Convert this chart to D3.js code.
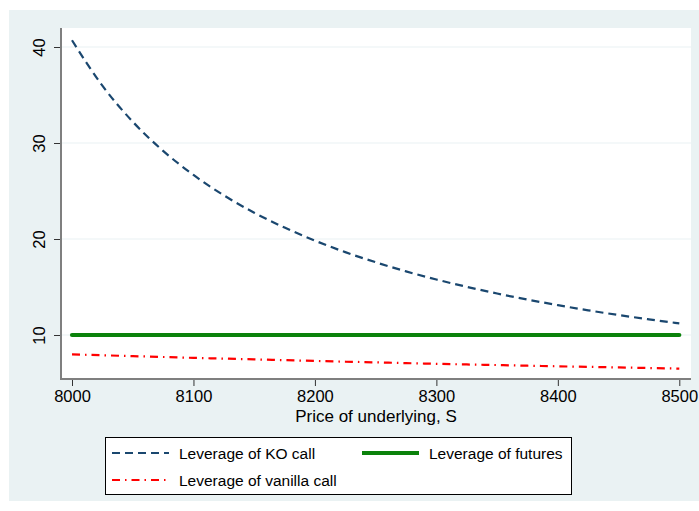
<!DOCTYPE html>
<html>
<head>
<meta charset="utf-8">
<script src="https://cdn.jsdelivr.net/npm/d3@7"></script>
<style>
  html, body { margin: 0; padding: 0; background: #ffffff; }
  svg { display: block; font-family: "Liberation Sans", Arial, sans-serif; }
</style>
</head>
<body>
<svg id="chart" width="699" height="511"></svg>
<script>
// Underlying price grid
const prices = [8000, 8025, 8050, 8075, 8100, 8125, 8150, 8175, 8200, 8225, 8250,
                8275, 8300, 8325, 8350, 8375, 8400, 8425, 8450, 8475, 8500];
// Leverage of the knock-out call
const koLeverage = [40.70, 35.97, 32.22, 29.18, 26.67, 24.55, 22.74, 21.19, 19.83, 18.63, 17.58,
                    16.63, 15.78, 15.02, 14.32, 13.69, 13.11, 12.57, 12.08, 11.63, 11.21];
// Leverage of the futures contract
const futuresLeverage = [10, 10, 10, 10, 10, 10, 10, 10, 10, 10, 10,
                         10, 10, 10, 10, 10, 10, 10, 10, 10, 10];
// Leverage of the vanilla call
const vanillaLeverage = [7.98, 7.89, 7.80, 7.71, 7.62, 7.54, 7.46, 7.38, 7.30, 7.22, 7.15,
                         7.07, 7.00, 6.93, 6.87, 6.80, 6.74, 6.68, 6.62, 6.56, 6.50];
const xTicks = [8000, 8100, 8200, 8300, 8400, 8500];
const yTicks = [10, 20, 30, 40];
const xTitle = "Price of underlying, S";
const seriesNames = ["Leverage of KO call", "Leverage of futures", "Leverage of vanilla call"];

const svg = d3.select("#chart");

// Graph region background
svg.append("rect").attr("x", 9).attr("y", 10).attr("width", 690).attr("height", 491)
  .attr("fill", "#eaf2f3");

// Plot region
const plot = { left: 61, right: 691, top: 28, bottom: 379 };
svg.append("rect").attr("x", plot.left).attr("y", plot.top)
  .attr("width", plot.right - plot.left).attr("height", plot.bottom - plot.top)
  .attr("fill", "#ffffff");

const x = d3.scaleLinear().domain([8000, 8500]).range([72, 679.3]);
const y = d3.scaleLinear().domain([10, 40]).range([335, 47]);

// Horizontal grid lines
svg.append("g").selectAll("line").data(yTicks).join("line")
  .attr("x1", plot.left).attr("x2", plot.right)
  .attr("y1", d => y(d)).attr("y2", d => y(d))
  .attr("stroke", "#eaf2f3").attr("stroke-width", 1.2);

// Series
const line = (vals) => d3.line()
  .x((d, i) => x(prices[i]))
  .y(d => y(d))
  .curve(d3.curveMonotoneX)(vals);

const styles = [
  { vals: koLeverage, color: "#1a476f", width: 2.2, dash: "8,5" },
  { vals: futuresLeverage, color: "#0b820b", width: 4.2, dash: null },
  { vals: vanillaLeverage, color: "#ff0000", width: 2.2, dash: "8,5,1.5,5" }
];

styles.forEach(s => {
  svg.append("path").attr("d", line(s.vals))
    .attr("fill", "none").attr("stroke", s.color)
    .attr("stroke-width", s.width)
    .attr("stroke-dasharray", s.dash)
    .attr("stroke-linecap", s.dash ? "butt" : "round");
});

// Axes
const yAxis = svg.append("g").attr("transform", `translate(${plot.left},0)`)
  .call(d3.axisLeft(y).tickValues(yTicks).tickSize(7).tickSizeOuter(0));
yAxis.select(".domain").remove();
yAxis.selectAll(".tick line").attr("stroke", "#333").attr("stroke-width", 1);
yAxis.selectAll(".tick text")
  .attr("transform", "rotate(-90)")
  .attr("x", 0).attr("y", -16).attr("dy", 0)
  .attr("text-anchor", "middle")
  .attr("font-size", 16.5).attr("fill", "#000")
  .attr("font-family", "Liberation Sans, Arial, sans-serif");

const xAxis = svg.append("g").attr("transform", `translate(0,${plot.bottom})`)
  .call(d3.axisBottom(x).tickValues(xTicks).tickFormat(d3.format("d")).tickSize(7).tickSizeOuter(0));
xAxis.select(".domain").remove();
xAxis.selectAll(".tick line").attr("stroke", "#333").attr("stroke-width", 1);
xAxis.selectAll(".tick text")
  .attr("y", 23).attr("dy", 0)
  .attr("font-size", 16.5).attr("fill", "#000")
  .attr("font-family", "Liberation Sans, Arial, sans-serif");

// Axis lines
svg.append("line").attr("x1", plot.left).attr("x2", plot.left)
  .attr("y1", plot.top).attr("y2", plot.bottom + 1)
  .attr("stroke", "#7f7f7f").attr("stroke-width", 2);
svg.append("line").attr("x1", plot.left - 1).attr("x2", plot.right)
  .attr("y1", plot.bottom).attr("y2", plot.bottom)
  .attr("stroke", "#7f7f7f").attr("stroke-width", 2);

// Axis title
svg.append("text").attr("x", (plot.left + plot.right) / 2).attr("y", 422)
  .attr("text-anchor", "middle").attr("font-size", 17).attr("fill", "#000")
  .text(xTitle);

// Legend
const legend = svg.append("g");
legend.append("rect").attr("x", 105.5).attr("y", 437.5).attr("width", 466).attr("height", 57)
  .attr("fill", "#ffffff").attr("stroke", "#000").attr("stroke-width", 1);

const legendItems = [
  { name: seriesNames[0], style: styles[0], x: 112, y: 453 },
  { name: seriesNames[1], style: styles[1], x: 362, y: 453 },
  { name: seriesNames[2], style: styles[2], x: 112, y: 480 }
];
legendItems.forEach(it => {
  legend.append("line").attr("x1", it.x).attr("x2", it.x + 57)
    .attr("y1", it.y).attr("y2", it.y)
    .attr("stroke", it.style.color).attr("stroke-width", it.style.width)
    .attr("stroke-dasharray", it.style.dash);
  legend.append("text").attr("x", it.x + 67).attr("y", it.y + 6)
    .attr("font-size", 15.5).attr("fill", "#000").text(it.name);
});
</script>
</body>
</html>
